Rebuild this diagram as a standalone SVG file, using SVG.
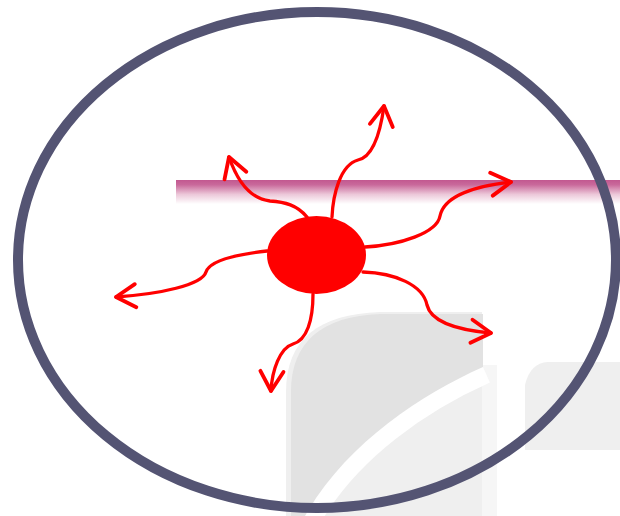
<svg xmlns="http://www.w3.org/2000/svg" width="620" height="516" viewBox="0 0 620 516">
  <defs>
    <linearGradient id="barGrad" x1="0" y1="0" x2="0" y2="1">
      <stop offset="0" stop-color="#c25890"/>
      <stop offset="0.2" stop-color="#c9699b"/>
      <stop offset="0.6" stop-color="#ecc8d9"/>
      <stop offset="1" stop-color="#ffffff"/>
    </linearGradient>
    <marker id="ah" markerUnits="userSpaceOnUse" markerWidth="30" markerHeight="30" viewBox="-22 -13 26 26" refX="0" refY="0" orient="auto" overflow="visible">
      <path d="M-17,-10 L0,0 L-17,10" fill="none" stroke="#ff0000" stroke-width="3.3" stroke-linecap="round" stroke-linejoin="round"/>
    </marker>
    <style>
      .arrow { fill: none; stroke: #ff0000; stroke-width: 3.3; stroke-linecap: round; marker-end: url(#ah); }
      .light { fill: #efefef; }
      .dark { fill: #e2e2e2; }
    </style>
  </defs>
  <rect x="0" y="0" width="620" height="516" fill="#ffffff"/>
  <g id="background">
    <rect x="480" y="365" width="17" height="151" fill="#f6f6f6"/>
    <path class="light" d="M286,516 V392 C286,340 318,314 380,312 H482 V516 Z"/>
    <path d="M483,367 C420,395 345,445 305,516" fill="none" stroke="#ffffff" stroke-width="34"/>
    <path class="dark" d="M291,516 V392 C291,342 322,316 380,314 H483 V367 C420,395 345,445 305,516 Z"/>
    <path class="light" d="M525,450 V385 Q530,363 548,362 H620 V450 Z"/>
  </g>
  <g id="bar">
    <rect x="176" y="180" width="444" height="24" fill="url(#barGrad)"/>
  </g>
  <g id="outline">
    <ellipse cx="317" cy="260" rx="299" ry="248" fill="none" stroke="#545473" stroke-width="10"/>
  </g>
  <g id="connectors">
    <path class="arrow" d="M307,217 C297,205 285,202 270,201 C252,199 238,183 229,157"/>
    <path class="arrow" d="M332,217 C333,195 340,165 358,160 C372,157 380,135 384,106"/>
    <path class="arrow" d="M365,247 C400,245 437,233 440,216 C444,196 475,186 511,182"/>
    <path class="arrow" d="M363,272 C395,273 423,285 427,305 C431,322 458,330 491,333"/>
    <path class="arrow" d="M313,294 C313,320 307,340 293,344 C280,348 272,370 271,391"/>
    <path class="arrow" d="M267,251 C240,254 210,260 206,272 C202,285 160,294 116,297"/>
  </g>
  <g id="center-node">
    <ellipse cx="316.5" cy="255" rx="49.5" ry="39" fill="#ff0000"/>
  </g>
</svg>
